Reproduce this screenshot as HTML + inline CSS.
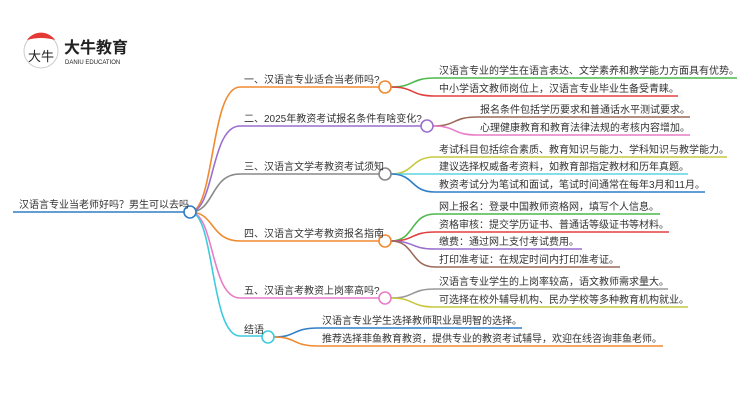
<!DOCTYPE html>
<html><head><meta charset="utf-8"><style>
html,body{margin:0;padding:0;background:#fff;width:750px;height:410px;overflow:hidden}
text{font-family:"Liberation Sans","Noto Sans CJK SC",sans-serif;font-size:10px;fill:#333}
</style></head><body>
<svg width="750" height="410" viewBox="0 0 750 410" xmlns="http://www.w3.org/2000/svg">
<circle cx="41" cy="51" r="17" fill="#fff" stroke="#ccc" stroke-width="1"/>
<path d="M27 40 A17 17 0 0 1 55 40 Q41 36 27 40 Z" fill="#e53935"/>
<text x="28" y="61" style="font-size:13px;fill:#222">大牛</text>
<text x="64" y="53" style="font-size:16px;fill:#222;font-weight:bold">大牛教育</text>
<text x="65" y="64" style="font-size:6px;fill:#222">DANIU EDUCATION</text>

<g fill="none" stroke-width="1.6">
<path d="M13 212 H184" stroke="#2f7ec7"/>
<path d="M190 212 C215 212 210 87 240 87 H379" stroke="#f08a30"/>
<path d="M190 212 C215 212 210 126 240 126 H421" stroke="#9a6fd0"/>
<path d="M190 212 C215 212 210 174 240 174 H379" stroke="#888"/>
<path d="M190 212 C215 212 210 241 240 241 H379" stroke="#f08a30"/>
<path d="M190 212 C215 212 210 298 240 298 H379" stroke="#e87cc8"/>
<path d="M190 212 C215 212 210 336 240 336 H262" stroke="#3ecbdc"/>
<path d="M391 87 C415 87 410 78 435 78 H737" stroke="#4cb84c"/>
<path d="M391 87 C415 87 410 96 435 96 H678" stroke="#e04040"/>
<path d="M433 126 C457 126 452 117 477 117 H690" stroke="#9b6a5a"/>
<path d="M433 126 C457 126 452 135 477 135 H690" stroke="#e87cc8"/>
<path d="M391 174 C415 174 410 157 435 157 H727" stroke="#c8c840"/>
<path d="M391 174 H688" stroke="#5fd3e0"/>
<path d="M391 174 C415 174 410 192 435 192 H705" stroke="#2f7ec7"/>
<path d="M391 241 C415 241 410 214 435 214 H660" stroke="#4cb84c"/>
<path d="M391 241 C415 241 410 232 435 232 H669" stroke="#e04040"/>
<path d="M391 241 C415 241 410 249 435 249 H582" stroke="#9a6fd0"/>
<path d="M391 241 C415 241 410 267 435 267 H620" stroke="#9b6a5a"/>
<path d="M391 298 C415 298 410 289 435 289 H668" stroke="#999"/>
<path d="M391 298 C415 298 410 307 435 307 H688" stroke="#c8c840"/>
<path d="M274 337 C297 337 292 328 318 328 H522" stroke="#2f7ec7"/>
<path d="M274 337 C297 337 292 346 318 346 H663" stroke="#f08a30"/>
</g>
<g fill="#fff" stroke-width="1.6">
<circle cx="190" cy="212" r="6" stroke="#2f7ec7"/>
<circle cx="385" cy="87" r="6" stroke="#f08a30"/>
<circle cx="427" cy="126" r="6" stroke="#9a6fd0"/>
<circle cx="385" cy="174" r="6" stroke="#888"/>
<circle cx="385" cy="241" r="6" stroke="#f08a30"/>
<circle cx="385" cy="298" r="6" stroke="#e87cc8"/>
<circle cx="268" cy="337" r="6" stroke="#3ecbdc"/>
</g>
<text x="19" y="208">汉语言专业当老师好吗？男生可以去吗</text>
<text x="244" y="83">一、汉语言专业适合当老师吗?</text>
<text x="244" y="122">二、2025年教资考试报名条件有啥变化?</text>
<text x="244" y="170">三、汉语言文学考教资考试须知</text>
<text x="244" y="237">四、汉语言文学考教资报名指南</text>
<text x="244" y="294">五、汉语言考教资上岗率高吗?</text>
<text x="244" y="333">结语</text>

<text x="439" y="74">汉语言专业的学生在语言表达、文学素养和教学能力方面具有优势。</text>
<text x="439" y="92">中小学语文教师岗位上，汉语言专业毕业生备受青睐。</text>
<text x="480" y="113">报名条件包括学历要求和普通话水平测试要求。</text>
<text x="480" y="131">心理健康教育和教育法律法规的考核内容增加。</text>
<text x="439" y="153">考试科目包括综合素质、教育知识与能力、学科知识与教学能力。</text>
<text x="439" y="170">建议选择权威备考资料，如教育部指定教材和历年真题。</text>
<text x="439" y="188">教资考试分为笔试和面试，笔试时间通常在每年3月和11月。</text>
<text x="439" y="210">网上报名：登录中国教师资格网，填写个人信息。</text>
<text x="439" y="228">资格审核：提交学历证书、普通话等级证书等材料。</text>
<text x="439" y="245">缴费：通过网上支付考试费用。</text>
<text x="439" y="263">打印准考证：在规定时间内打印准考证。</text>
<text x="439" y="285">汉语言专业学生的上岗率较高，语文教师需求量大。</text>
<text x="439" y="303">可选择在校外辅导机构、民办学校等多种教育机构就业。</text>
<text x="322" y="324">汉语言专业学生选择教师职业是明智的选择。</text>
<text x="322" y="342">推荐选择菲鱼教育教资，提供专业的教资考试辅导，欢迎在线咨询菲鱼老师。</text>
</svg>
</body></html>
